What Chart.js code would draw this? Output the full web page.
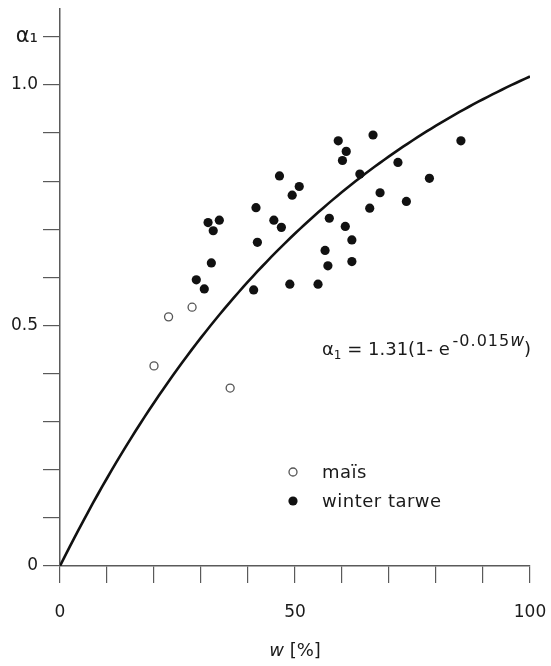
<!DOCTYPE html>
<html>
<head>
<meta charset="utf-8">
<script src="https://cdn.jsdelivr.net/npm/chart.js@4.4.0/dist/chart.umd.min.js"></script>
<style>
  html, body { margin: 0; padding: 0; background: #ffffff; }
  #wrap { width: 551px; height: 666px; }
</style>
</head>
<body>
<div id="wrap"><canvas id="c" width="551" height="666"></canvas></div>
<script>
// Measured coefficient α1 against moisture content w [%]
const maisW      = [28.1, 23.1, 20.0, 36.2];
const maisAlpha  = [0.538, 0.518, 0.416, 0.370];

const tarweW     = [59.2, 66.6, 60.9, 60.1, 46.7, 50.9, 49.4, 63.8, 71.9, 85.3, 78.6,
                    68.1, 73.7, 65.9, 41.7, 31.5, 33.9, 32.6, 45.5, 47.1, 57.3, 60.7,
                    62.1, 42.0, 56.4, 57.0, 62.1, 32.2, 29.0, 30.7, 41.2, 48.9, 54.9];
const tarweAlpha = [0.884, 0.896, 0.862, 0.843, 0.811, 0.789, 0.771, 0.815, 0.839, 0.884, 0.806,
                    0.776, 0.758, 0.744, 0.745, 0.714, 0.719, 0.697, 0.719, 0.704, 0.723, 0.706,
                    0.678, 0.673, 0.656, 0.624, 0.633, 0.630, 0.595, 0.576, 0.574, 0.586, 0.586];

// Fitted relation α1 = A (1 - e^(-k w))
const FIT_A = 1.31;
const FIT_K = 0.015;
const fitW = [0, 2, 4, 6, 8, 10, 12, 14, 16, 18, 20, 22, 24, 26, 28, 30, 32, 34, 36, 38, 40,
              42, 44, 46, 48, 50, 52, 54, 56, 58, 60, 62, 64, 66, 68, 70, 72, 74, 76, 78, 80,
              82, 84, 86, 88, 90, 92, 94, 96, 98, 100];

// Axis ticks and the few that carry a label
const xTickValues = [0, 10, 20, 30, 40, 50, 60, 70, 80, 90, 100];
const xLabelValues = [0, 50, 100];
const xLabelTexts  = ['0', '50', '100'];
const yTickValues = [0, 0.1, 0.2, 0.3, 0.4, 0.5, 0.6, 0.7, 0.8, 0.9, 1.0, 1.1];
const yLabelValues = [0, 0.5, 1.0, 1.1];
const yLabelTexts  = ['0', '0.5', '1.0', 'α₁'];

const legendLabels = ['maïs', 'winter tarwe'];
const xTitleMain = 'w';
const xTitleUnit = ' [%]';

const FONT = '"DejaVu Sans", "Liberation Sans", sans-serif';
const INK = '#1a1a1a';
const AXIS = '#5a5a5a';

function toPoints(xs, ys) { return xs.map((x, i) => ({ x: x, y: ys[i] })); }
function labelFor(value, vals, texts) {
  const i = vals.findIndex(v => Math.abs(v - value) < 1e-6);
  return i >= 0 ? texts[i] : '';
}

const fitPoints = fitW.map(w => ({ x: w, y: FIT_A * (1 - Math.exp(-FIT_K * w)) }));

// Formula, legend and axis title drawn over the plot
const annotations = {
  id: 'annotations',
  afterDatasetsDraw(chart) {
    const { ctx, chartArea: ca } = chart;
    ctx.save();
    ctx.fillStyle = INK;
    ctx.textBaseline = 'alphabetic';
    ctx.textAlign = 'left';

    // formula
    let x = ca.left + 262;
    const y = 355;
    ctx.font = '18px ' + FONT;
    ctx.fillText('α', x, y); x += ctx.measureText('α').width;
    ctx.font = '12px ' + FONT;
    ctx.fillText('1', x, y + 4); x += ctx.measureText('1').width;
    ctx.font = '18px ' + FONT;
    const mid = ' = ' + FIT_A + '(1- e ';
    ctx.fillText(mid, x, y); x += ctx.measureText(mid).width - 3;
    ctx.font = '16px ' + FONT;
    ctx.letterSpacing = '1px';
    const expTxt = '-' + FIT_K;
    ctx.fillText(expTxt, x, y - 9); x += ctx.measureText(expTxt).width;
    ctx.letterSpacing = '0px';
    ctx.font = 'italic 17px ' + FONT;
    ctx.fillText('w', x, y - 9); x += ctx.measureText('w').width;
    ctx.font = '18px ' + FONT;
    ctx.fillText(')', x, y);

    // legend
    const ds = chart.data.datasets;
    const rows = [
      { d: ds[0], y: 472, text: legendLabels[0] },
      { d: ds[1], y: 501, text: legendLabels[1] }
    ];
    rows.forEach(r => {
      ctx.beginPath();
      ctx.arc(ca.left + 233, r.y, r.d.pointRadius, 0, Math.PI * 2);
      ctx.fillStyle = r.d.backgroundColor;
      ctx.fill();
      ctx.lineWidth = r.d.borderWidth;
      ctx.strokeStyle = r.d.borderColor;
      if (r.d.borderWidth > 0) ctx.stroke();
      ctx.fillStyle = INK;
      ctx.font = '18px ' + FONT;
      ctx.letterSpacing = '0.5px';
      ctx.fillText(r.text, ca.left + 262, r.y + 6);
      ctx.letterSpacing = '0px';
    });

    // x-axis title
    ctx.font = 'italic 18px ' + FONT;
    const w1 = ctx.measureText(xTitleMain).width;
    ctx.font = '18px ' + FONT;
    const w2 = ctx.measureText(xTitleUnit).width;
    const cx = (ca.left + ca.right) / 2;
    let tx = cx - (w1 + w2) / 2;
    ctx.font = 'italic 18px ' + FONT;
    ctx.fillText(xTitleMain, tx, 656);
    ctx.font = '18px ' + FONT;
    ctx.fillText(xTitleUnit, tx + w1, 656);
    ctx.restore();
  }
};

new Chart(document.getElementById('c'), {
  type: 'scatter',
  data: {
    datasets: [
      {
        label: legendLabels[0],
        data: toPoints(maisW, maisAlpha),
        pointRadius: 4,
        pointHoverRadius: 4,
        backgroundColor: '#ffffff',
        borderColor: '#555555',
        borderWidth: 1.3
      },
      {
        label: legendLabels[1],
        data: toPoints(tarweW, tarweAlpha),
        pointRadius: 4.6,
        pointHoverRadius: 4.6,
        backgroundColor: '#111111',
        borderColor: '#111111',
        borderWidth: 0
      },
      {
        label: 'fit',
        type: 'line',
        data: fitPoints,
        showLine: true,
        pointRadius: 0,
        borderColor: '#111111',
        borderWidth: 2.6,
        tension: 0.3,
        fill: false
      }
    ]
  },
  options: {
    responsive: false,
    animation: false,
    events: [],
    layout: { padding: { left: 0, top: 9, right: 21, bottom: 0 } },
    plugins: { legend: { display: false }, tooltip: { enabled: false } },
    scales: {
      x: {
        type: 'linear',
        min: 0,
        max: 100,
        afterBuildTicks: s => { s.ticks = xTickValues.map(v => ({ value: v })); },
        afterFit: s => { s.height = 100; s.paddingLeft = 0; s.paddingRight = 0; },
        ticks: {
          autoSkip: false,
          maxRotation: 0,
          padding: 19,
          color: INK,
          font: { family: FONT, size: 17 },
          callback: v => labelFor(v, xLabelValues, xLabelTexts)
        },
        grid: { drawOnChartArea: false, drawTicks: true, tickLength: 17, color: AXIS, lineWidth: 1.2 },
        border: { display: true, color: AXIS, width: 1.5 }
      },
      y: {
        type: 'linear',
        min: 0,
        max: 1.158,
        afterBuildTicks: s => { s.ticks = yTickValues.map(v => ({ value: v })); },
        afterFit: s => { s.width = 60; s.paddingTop = 0; s.paddingBottom = 0; },
        ticks: {
          autoSkip: false,
          padding: 5,
          color: INK,
          font: ctx => ({ family: FONT, size: (ctx.tick && Math.abs(ctx.tick.value - 1.1) < 1e-6) ? 21 : 17 }),
          callback: v => labelFor(v, yLabelValues, yLabelTexts)
        },
        grid: { drawOnChartArea: false, drawTicks: true, tickLength: 17, color: AXIS, lineWidth: 1.2 },
        border: { display: true, color: AXIS, width: 1.5 }
      }
    }
  },
  plugins: [annotations]
});
</script>
</body>
</html>
